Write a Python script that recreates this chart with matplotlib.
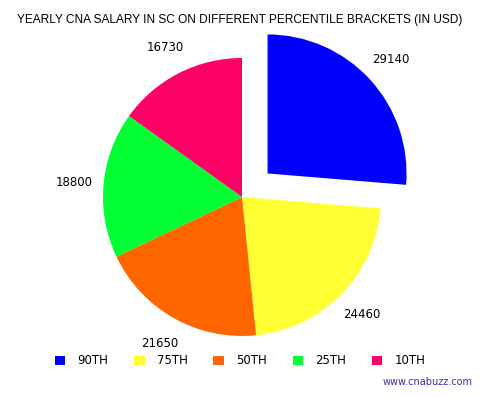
import matplotlib
matplotlib.use("Agg")
import matplotlib.pyplot as plt
from matplotlib.patches import Patch

# data
brackets = ["90TH", "75TH", "50TH", "25TH", "10TH"]
salaries = [29140, 24460, 21650, 18800, 16730]
colors = ["#0000FF", "#FFFF33", "#FF6600", "#00FF33", "#FF0066"]
explode = [0.25, 0, 0, 0, 0]

W, H = 482, 397
fig = plt.figure(figsize=(W / 100, H / 100), dpi=100)
ax = fig.add_axes([0, 0, 1, 1])

wedges, texts = ax.pie(salaries, colors=colors, explode=explode,
                       labels=[str(s) for s in salaries], labeldistance=1.21,
                       startangle=90, counterclock=False,
                       textprops=dict(fontsize=8.5))
for t in texts:
    t.set_ha("center")
    t.set_va("center")

# put the pie centre at (242, 200) px from bottom, radius 139 px
r = 139.0
cx, cy = 242, 200
ax.set_xlim(-cx / r, (W - cx) / r)
ax.set_ylim(-cy / r, (H - cy) / r)
ax.set_aspect("auto")
ax.axis("off")

fig.text(240 / W, 1 - 20 / H,
         "YEARLY CNA SALARY IN SC ON DIFFERENT PERCENTILE BRACKETS (IN USD)",
         ha="center", va="center", fontsize=8.6, family="Liberation Sans")

handles = [Patch(facecolor=c, edgecolor="none") for c in colors]
fig.legend(handles, brackets, loc="center", bbox_to_anchor=(240 / W, 1 - 361 / H),
           ncol=5, frameon=False, fontsize=8.5, handlelength=0.9, handleheight=0.9,
           handletextpad=1.0, columnspacing=2.2)

fig.text(428 / W, 1 - 382 / H, "www.cnabuzz.com", ha="center", va="center",
         fontsize=7, color="#3333AA")

fig.savefig("out.png", dpi=100)
